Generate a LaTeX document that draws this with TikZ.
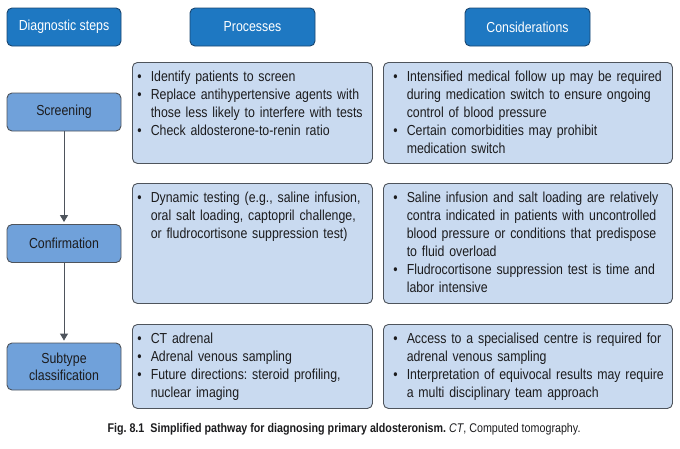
\documentclass[tikz,border=0pt]{standalone}
\usepackage{fontspec}
\setmainfont{Liberation Sans}[FakeStretch=0.85]
\usepackage{xcolor}
\usepackage{tikz}
\usetikzlibrary{arrows.meta, positioning}
\frenchspacing
\definecolor{headblue}{RGB}{30,120,194}
\definecolor{headedge}{RGB}{26,70,112}
\definecolor{stepblue}{RGB}{112,161,218}
\definecolor{boxblue}{RGB}{201,218,240}
\definecolor{edgegray}{RGB}{78,84,92}
\definecolor{textdark}{RGB}{28,28,30}

\begin{document}
\begin{tikzpicture}[
    x=1pt, y=-1pt,
    header/.style={rectangle, rounded corners=5pt, draw=headedge, fill=headblue, line width=0.9pt, text=white, minimum width=114pt, minimum height=38pt, font=\fontsize{14.5}{16}\selectfont},
    stage/.style={rectangle, rounded corners=5pt, draw=edgegray, fill=stepblue, line width=0.9pt, text=textdark, minimum width=114pt, minimum height=38pt, align=center, font=\fontsize{14.5}{17}\selectfont},
    content/.style={rectangle, rounded corners=5pt, draw=edgegray, fill=boxblue, line width=0.9pt, text=textdark, anchor=north west, align=left, inner ysep=9pt, text height=10.5pt, font=\fontsize{14.5}{18}\selectfont},
    proc/.style={content, inner xsep=5pt, text width=230pt},
    cons/.style={content, inner xsep=10pt, text width=269pt},
    arrow/.style={-{Triangle[width=8pt,length=7pt]}, line width=0.9pt, draw=edgegray, shorten >=2pt}
]
    \useasboundingbox (0,0) rectangle (680,448);

    % Column headers
    \node[header] (hdsteps) at (64, 27) {Diagnostic steps};
    \node[header, minimum width=125pt] (hdproc) at (252.5, 27) {Processes};
    \node[header, minimum width=125pt] (hdcons) at (527.5, 27) {Considerations};

    % Diagnostic steps
    \node[stage] (screen) at (64, 112) {Screening};
    \node[stage] (confirm) at (64, 243.5) {Confirmation};
    \node[stage, minimum height=47pt] (subtype) at (64, 366.5) {Subtype\\classification};

    % Screening row
    \node[proc, text depth=72.5pt] (procscreen) at (132, 62) {\begin{tabular}[t]{@{}l@{\hspace{9pt}}l@{}}
        \textbullet & Identify patients to screen\\
        \textbullet & Replace antihypertensive agents with\\
                    & those less likely to interfere with tests\\
        \textbullet & Check aldosterone-to-renin ratio
    \end{tabular}};
    \node[cons, text depth=72.5pt] (consscreen) at (383, 62) {\begin{tabular}[t]{@{}l@{\hspace{9pt}}l@{}}
        \textbullet & Intensified medical follow up may be required\\
                    & during medication switch to ensure ongoing\\
                    & control of blood pressure\\
        \textbullet & Certain comorbidities may prohibit\\
                    & medication switch
    \end{tabular}};

    % Confirmation row
    \node[proc, text depth=91.5pt] (procconfirm) at (132, 183) {\begin{tabular}[t]{@{}l@{\hspace{9pt}}l@{}}
        \textbullet & Dynamic testing (e.g., saline infusion,\\
                    & oral salt loading, captopril challenge,\\
                    & or fludrocortisone suppression test)
    \end{tabular}};
    \node[cons, text depth=91.5pt] (consconfirm) at (383, 183) {\begin{tabular}[t]{@{}l@{\hspace{9pt}}l@{}}
        \textbullet & Saline infusion and salt loading are relatively\\
                    & contra indicated in patients with uncontrolled\\
                    & blood pressure or conditions that predispose\\
                    & to fluid overload\\
        \textbullet & Fludrocortisone suppression test is time and\\
                    & labor intensive
    \end{tabular}};

    % Subtype classification row
    \node[proc, text depth=55.5pt] (procsubtype) at (132, 324) {\begin{tabular}[t]{@{}l@{\hspace{9pt}}l@{}}
        \textbullet & CT adrenal\\
        \textbullet & Adrenal venous sampling\\
        \textbullet & Future directions: steroid profiling,\\
                    & nuclear imaging
    \end{tabular}};
    \node[cons, text depth=55.5pt] (conssubtype) at (383, 324) {\begin{tabular}[t]{@{}l@{\hspace{9pt}}l@{}}
        \textbullet & Access to a specialised centre is required for\\
                    & adrenal venous sampling\\
        \textbullet & Interpretation of equivocal results may require\\
                    & a multi disciplinary team approach
    \end{tabular}};

    % Arrows
    \draw[arrow] (screen) -- (confirm);
    \draw[arrow] (confirm) -- (subtype);

    % Caption
    \node[font=\fontsize{12.6}{14}\selectfont, text=textdark] (caption) at (344, 429) {\textbf{Fig. 8.1\hspace{6pt}Simplified pathway for diagnosing primary aldosteronism.} \textit{CT}, Computed tomography.};
\end{tikzpicture}
\end{document}
